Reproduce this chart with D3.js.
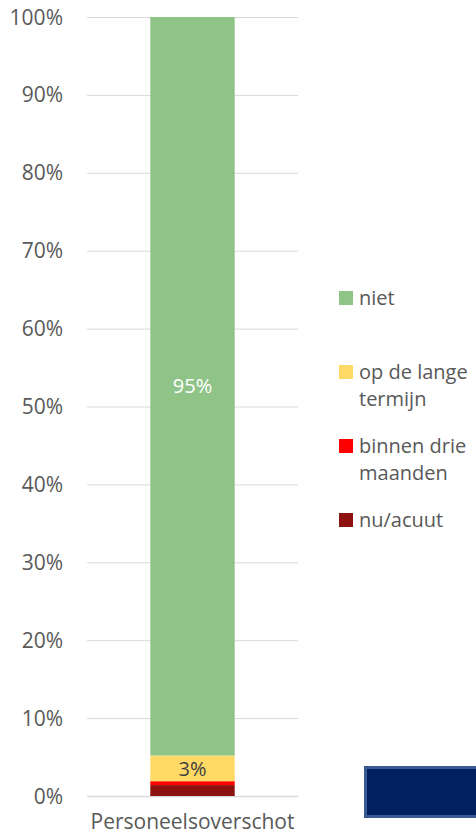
<!DOCTYPE html>
<html>
<head>
<meta charset="utf-8">
<script src="https://cdn.jsdelivr.net/npm/d3@7"></script>
<style>
  body { margin: 0; background: #fff; }
  svg text { font-family: "Open Sans", sans-serif; }
</style>
</head>
<body>
<svg id="chart" width="476" height="839"></svg>
<script>
// Data
var categories = ["Personeelsoverschot"];
var seriesNames = ["nu/acuut", "binnen drie maanden", "op de lange termijn", "niet"];
var seriesValues = [1.4, 0.5, 3.3, 94.8];
var seriesColors = ["#8c1111", "#ff0000", "#ffd966", "#8fc388"];
var legendLines = [["niet"], ["op de lange", "termijn"], ["binnen drie", "maanden"], ["nu/acuut"]];
var barLabels = ["", "", "3%", "95%"];
var tickValues = [0, 10, 20, 30, 40, 50, 60, 70, 80, 90, 100];

var dimensions = {
    width: 476,
    height: 839,
    margin: { top: 17, bottom: 43, left: 87, right: 178 }
};

var svg = d3.select("#chart");

var xScale = d3.scaleBand()
    .domain(categories)
    .range([dimensions.margin.left, dimensions.width - dimensions.margin.right])
    .paddingInner(0.6)
    .paddingOuter(0.3);

var yScale = d3.scaleLinear()
    .domain([0, 100])
    .range([dimensions.height - dimensions.margin.bottom, dimensions.margin.top]);

// Gridlines
svg.append("g")
    .selectAll("line")
    .data(tickValues)
    .enter()
    .append("line")
    .attr("x1", dimensions.margin.left)
    .attr("x2", dimensions.width - dimensions.margin.right)
    .attr("y1", d => yScale(d) + 0.5)
    .attr("y2", d => yScale(d) + 0.5)
    .attr("stroke", "#d9d9d9")
    .attr("stroke-width", d => d === 0 ? 1.5 : 1);

// Y axis labels
svg.append("g")
    .selectAll("text")
    .data(tickValues)
    .enter()
    .append("text")
    .attr("x", 63)
    .attr("y", d => yScale(d))
    .attr("dy", "0.36em")
    .attr("text-anchor", "end")
    .attr("font-size", "21px")
    .attr("fill", "#595959")
    .text(d => d + "%");

// Stacked segments
var stacked = [];
var cum = 0;
seriesValues.forEach((v, i) => {
    stacked.push({ name: seriesNames[i], y0: cum, y1: cum + v, color: seriesColors[i], label: barLabels[i] });
    cum += v;
});

var bar = svg.append("g");
bar.selectAll("rect")
    .data(stacked)
    .enter()
    .append("rect")
    .attr("x", xScale(categories[0]))
    .attr("width", xScale.bandwidth())
    .attr("y", d => yScale(d.y1))
    .attr("height", d => yScale(d.y0) - yScale(d.y1))
    .attr("fill", d => d.color);

bar.selectAll("text")
    .data(stacked.filter(d => d.label))
    .enter()
    .append("text")
    .attr("x", xScale(categories[0]) + xScale.bandwidth() / 2)
    .attr("y", d => yScale((d.y0 + d.y1) / 2))
    .attr("dy", "0.36em")
    .attr("text-anchor", "middle")
    .attr("font-size", "20px")
    .attr("fill", d => d.name === "niet" ? "#ffffff" : "#404040")
    .text(d => d.label);

// Category label
svg.append("text")
    .attr("x", xScale(categories[0]) + xScale.bandwidth() / 2)
    .attr("y", 829)
    .attr("text-anchor", "middle")
    .attr("font-size", "21px")
    .attr("fill", "#595959")
    .text(categories[0]);

// Legend (top to bottom: niet, op de lange termijn, binnen drie maanden, nu/acuut)
var legendOrder = [3, 2, 1, 0];
var legendY = [298, 372, 446, 520];
var legend = svg.append("g");
legendOrder.forEach((si, i) => {
    var g = legend.append("g").attr("transform", `translate(339, ${legendY[i]})`);
    g.append("rect")
        .attr("x", 0)
        .attr("y", -7)
        .attr("width", 14)
        .attr("height", 14)
        .attr("fill", seriesColors[si]);
    legendLines[i].forEach((t, j) => {
        g.append("text")
            .attr("x", 20)
            .attr("y", j * 27)
            .attr("dy", "0.36em")
            .attr("font-size", "20px")
            .attr("fill", "#595959")
            .text(t);
    });
});

// Dark box bottom right
svg.append("rect")
    .attr("x", 365.5)
    .attr("y", 767.5)
    .attr("width", 120)
    .attr("height", 49)
    .attr("fill", "#002060")
    .attr("stroke", "#3b5a94")
    .attr("stroke-width", 3);
</script>
</body>
</html>
